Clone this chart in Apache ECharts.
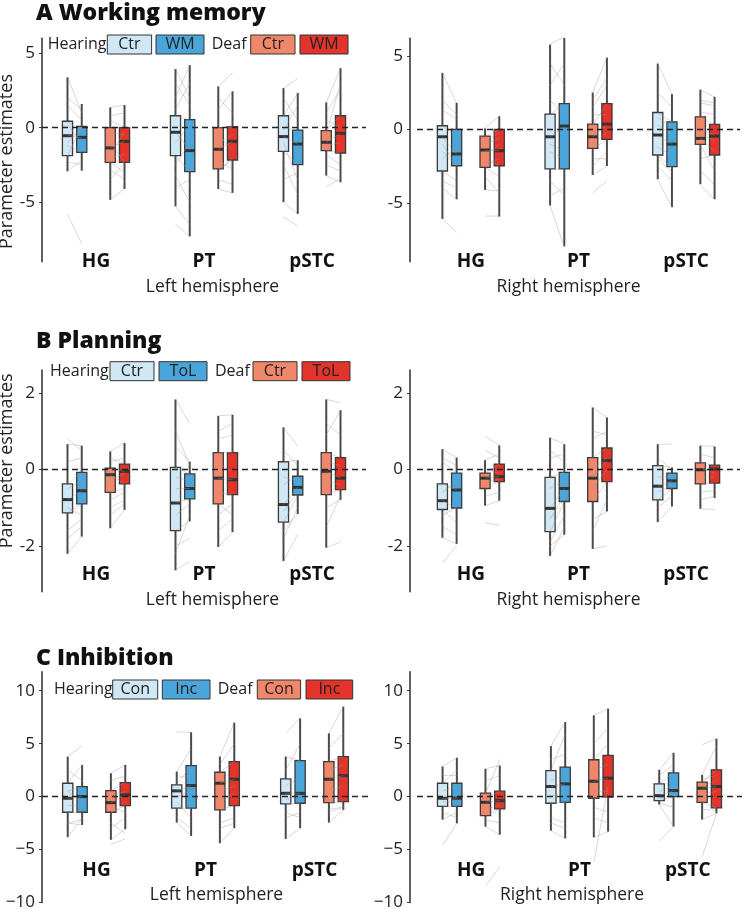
<!DOCTYPE html>
<html><head><meta charset="utf-8">
<script src="https://cdn.jsdelivr.net/npm/echarts@6/dist/echarts.min.js"></script>
<style>html,body{margin:0;padding:0;background:#fff}#c{width:750px;height:909px}</style>
</head><body><div id="c"></div><script>
// ---------- categories / labels ----------
const regions = ['HG', 'PT', 'pSTC'];
const groupNames = ['Hearing', 'Deaf'];
const wmConds = ['Ctr', 'WM'];
const planConds = ['Ctr', 'ToL'];
const inhibConds = ['Con', 'Inc'];
const panelTitles = ['A Working memory', 'B Planning', 'C Inhibition'];
const hemiNames = ['Left hemisphere', 'Right hemisphere'];
const yTicksA = [-5, 0, 5];
const yTicksB = [-2, 0, 2];
const yTicksC = [-10, -5, 0, 5, 10];

// ---------- box summaries: [whiskerLow, Q1, median, Q3, whiskerHigh] per region (HG, PT, pSTC) ----------
// A Working memory, left
const wmL_HCtr = [[-2.93,-1.88,-0.54,0.43,3.38],[-5.28,-1.88,-0.31,0.80,3.94],[-5.00,-1.59,-0.60,0.80,2.66]];
const wmL_HTask = [[-2.89,-1.66,-0.65,0.09,1.59],[-7.30,-2.95,-1.54,0.54,4.20],[-5.79,-2.48,-1.10,-0.16,2.33]];
const wmL_DCtr = [[-4.85,-2.33,-1.36,0.00,1.36],[-4.12,-2.77,-1.45,0.00,2.77],[-3.22,-1.54,-0.98,-0.20,1.70]];
const wmL_DTask = [[-4.12,-2.33,-0.92,0.00,1.52],[-4.38,-2.17,-0.92,0.07,2.44],[-3.67,-1.70,-0.38,0.80,4.00]];
// A Working memory, right
const wmR_HCtr = [[-6.09,-2.83,-0.50,0.25,3.85],[-5.18,-2.69,-0.50,1.04,5.77],[-3.39,-1.74,-0.38,1.15,4.48]];
const wmR_HTask = [[-4.75,-2.47,-1.67,0.00,1.81],[-7.96,-2.69,0.23,1.76,6.22],[-5.29,-2.53,-1.00,0.52,2.40]];
const wmR_DCtr = [[-4.12,-2.58,-1.40,-0.45,0.07],[-3.10,-1.29,-0.50,0.36,2.51],[-3.73,-1.02,-0.61,0.86,2.71]];
const wmR_DTask = [[-5.93,-2.47,-1.45,0.00,0.90],[-2.49,-0.68,0.36,1.76,4.89],[-4.75,-1.74,-0.45,0.34,2.22]];
// B Planning, left
const plL_HCtr = [[-2.21,-1.14,-0.79,-0.38,0.66],[-2.64,-1.60,-0.88,0.05,1.83],[-2.40,-1.38,-0.92,0.20,1.10]];
const plL_HTask = [[-1.76,-0.90,-0.56,-0.08,0.62],[-1.36,-0.77,-0.50,-0.12,0.20],[-1.17,-0.67,-0.47,-0.18,0.24]];
const plL_DCtr = [[-1.54,-0.60,-0.14,0.03,0.47],[-2.03,-0.90,-0.23,0.44,1.40],[-2.05,-0.66,-0.05,0.44,1.83]];
const plL_DTask = [[-1.06,-0.38,-0.05,0.14,0.69],[-1.64,-0.66,-0.27,0.44,1.43],[-0.80,-0.53,-0.23,0.31,1.55]];
// B Planning, right
const plR_HCtr = [[-1.79,-1.05,-0.82,-0.38,0.53],[-2.27,-1.63,-1.02,-0.21,0.83],[-1.38,-0.80,-0.44,0.10,0.66]];
const plR_HTask = [[-1.95,-1.01,-0.54,-0.10,0.31],[-1.71,-0.84,-0.50,-0.08,0.66],[-0.97,-0.50,-0.30,-0.10,0.05]];
const plR_DCtr = [[-0.95,-0.50,-0.23,-0.10,0.24],[-2.08,-0.84,-0.23,0.31,1.62],[-1.03,-0.38,-0.01,0.17,0.62]];
const plR_DTask = [[-0.82,-0.32,-0.19,0.14,0.63],[-1.10,-0.32,0.23,0.56,1.36],[-0.75,-0.36,0.01,0.11,0.60]];
// C Inhibition, left
const inL_HCtr = [[-3.84,-1.48,-0.16,1.26,3.78],[-2.46,-1.10,0.54,1.10,2.36],[-4.00,-0.69,0.31,1.67,3.78]];
const inL_HTask = [[-2.68,-1.48,0.00,0.94,2.99],[-3.72,-1.10,1.04,2.93,6.08],[-2.99,-0.63,0.31,3.40,7.40]];
const inL_DCtr = [[-4.09,-1.48,-0.57,0.57,2.20],[-4.41,-1.26,1.26,2.30,3.78],[-2.46,-0.57,1.64,3.31,5.98]];
const inL_DTask = [[-3.09,-0.85,0.16,1.32,2.99],[-2.99,-0.85,1.64,3.31,6.99],[-1.26,-0.47,1.98,3.78,8.50]];
// C Inhibition, right
const inR_HCtr = [[-2.18,-0.92,-0.16,1.26,2.84],[-3.22,-0.63,0.95,2.46,4.77],[-0.76,-0.38,0.09,1.20,2.53]];
const inR_HTask = [[-2.53,-0.92,-0.16,1.26,3.67],[-3.95,-0.54,1.20,2.78,7.05],[-2.84,0.00,0.57,2.24,4.14]];
const inR_DCtr = [[-2.84,-1.80,-0.54,0.32,2.62],[-3.85,-0.16,1.45,3.48,7.68],[-2.18,-0.54,0.79,1.36,2.05]];
const inR_DTask = [[-3.60,-1.17,-0.38,0.51,2.94],[-3.32,-0.06,1.74,3.89,8.31],[-1.58,-1.07,0.95,2.53,5.47]];

// ---------- individual subjects: [control, task] per region (HG, PT, pSTC) ----------
const wmL_HPairs = [
  [[3.4,1.0],[1.5,0.5],[0.4,-0.3],[-0.5,-0.7],[-1.2,-1.6],[-1.9,0.1],[-2.9,-2.2],[-5.8,-7.8],[2.0,1.2],[0.2,-1.0],[-1.0,0.0],[-2.3,-2.5]],
  [[3.94,2.0],[2.0,4.2],[0.8,0.5],[-0.3,-1.5],[-1.0,0.2],[-1.9,-2.95],[-4.0,-3.5],[-5.28,-6.5],[-6.5,-7.3],[3.0,1.5],[1.2,3.0],[-2.5,-1.0],[-3.2,-5.0]],
  [[2.66,3.3],[0.8,2.33],[0.0,-0.16],[-0.6,-1.1],[-1.59,-2.48],[-3.5,-3.0],[-5.0,-5.79],[-6.0,-6.6],[2.0,0.5],[-0.2,1.5],[-1.0,-3.5],[-2.5,-4.5]]];
const wmL_DPairs = [
  [[1.36,1.52],[0.5,0.0],[-0.3,-0.5],[-1.36,-0.9],[-2.0,-1.8],[-2.33,-3.0],[-3.5,-2.4],[-4.85,-4.12],[0.8,1.0],[-1.0,-2.33],[-1.8,-0.3],[-2.8,-3.5]],
  [[2.77,3.7],[1.2,2.44],[0.0,0.07],[-1.0,-0.5],[-1.45,-0.92],[-2.77,-2.17],[-3.5,-3.8],[-4.12,-4.38],[2.0,1.0],[-0.5,-1.5],[-2.2,-2.8],[-3.0,-2.0]],
  [[1.7,4.0],[1.0,2.6],[-0.2,0.8],[-0.98,-0.38],[-1.54,-1.7],[-2.5,-2.9],[-3.22,-3.67],[-4.0,-3.4],[0.5,0.0],[-1.2,-1.0],[-1.8,-2.5],[-0.5,3.0]]];
const wmR_HPairs = [
  [[3.84,1.8],[1.3,0.7],[0.24,-0.5],[-0.5,-1.7],[-1.5,-2.5],[-2.85,-3.5],[-4.0,-4.75],[-6.1,-7.0],[2.0,1.0],[-1.0,-2.47],[-2.0,-1.2],[-3.5,-4.0]],
  [[5.8,6.3],[4.5,3.0],[1.0,1.76],[-0.5,0.15],[-1.5,-2.0],[-2.7,-2.7],[-4.5,-4.0],[-5.2,-8.0],[3.0,4.5],[2.0,1.0],[-1.0,-1.5],[-3.5,-4.5]],
  [[4.5,2.4],[1.15,0.5],[0.3,-0.3],[-0.44,-1.0],[-1.76,-2.6],[-2.5,-3.5],[-3.4,-5.3],[2.5,1.5],[0.8,0.2],[-1.2,-1.8],[-2.0,-2.9]]];
const wmR_DPairs = [
  [[0.1,0.9],[-0.5,0.0],[-1.0,-0.6],[-1.45,-1.45],[-2.0,-2.5],[-2.55,-3.2],[-4.1,-4.2],[-5.9,-5.9],[-0.8,-0.2],[-1.8,-1.0],[-2.3,-2.0],[-3.2,-4.3]],
  [[2.5,4.9],[1.5,3.0],[0.26,1.76],[-0.5,0.3],[-1.3,-0.73],[-2.0,-2.0],[-3.1,-2.5],[-4.3,-3.5],[2.0,3.5],[1.0,1.0],[-1.0,-0.2],[-2.5,-1.5]],
  [[2.7,2.2],[1.8,1.6],[0.85,0.3],[0.0,-0.4],[-0.6,-1.5],[-1.04,-2.8],[-2.8,-3.8],[-3.8,-4.75],[2.0,1.8],[1.2,1.0],[-0.3,-0.8],[-2.0,-1.74]]];
const plL_HPairs = [
  [[0.66,0.62],[0.8,0.5],[-0.38,-0.08],[-0.79,-0.56],[-1.14,-0.9],[-1.6,-1.3],[-2.21,-1.76],[0.2,0.3],[-0.5,-0.3],[-1.0,-1.2],[-1.8,-1.5]],
  [[1.83,1.2],[0.6,0.2],[0.05,-0.12],[-0.5,-0.5],[-0.88,-0.77],[-1.6,-1.36],[-2.0,-1.8],[-2.64,-2.4],[1.0,0.1],[-0.2,-0.3],[-1.2,-0.9],[-2.2,-1.2]],
  [[1.1,0.6],[0.2,0.24],[-0.4,-0.18],[-0.92,-0.47],[-1.38,-0.67],[-1.6,-1.17],[-2.4,-1.7],[0.5,0.1],[-0.2,-0.3],[-1.1,-0.6],[-1.8,-1.0]]];
const plL_DPairs = [
  [[0.47,0.69],[0.3,0.14],[0.03,-0.05],[-0.14,-0.38],[-0.6,-0.5],[-1.0,-0.8],[-1.54,-1.06],[0.2,0.3],[-0.3,-0.1],[-0.8,-0.6],[-1.2,-0.9]],
  [[1.4,1.43],[0.8,0.9],[0.44,0.44],[-0.23,-0.27],[-0.6,-0.66],[-0.9,-1.2],[-2.03,-1.64],[1.0,1.2],[0.2,-0.1],[-1.2,-0.9],[-1.6,-1.3]],
  [[1.83,1.75],[0.9,1.55],[0.44,0.31],[-0.05,-0.23],[-0.66,-0.53],[-1.0,-0.8],[-2.05,-1.9],[1.2,0.9],[0.2,0.1],[-0.3,-0.4],[-1.5,-0.7]]];
const plR_HPairs = [
  [[0.53,0.31],[0.2,-0.1],[-0.38,-0.54],[-0.82,-1.01],[-1.05,-1.4],[-1.79,-1.95],[-2.45,-2.0],[0.3,0.1],[-0.6,-0.3],[-1.2,-1.0],[-1.5,-1.7]],
  [[0.83,0.66],[0.3,0.4],[-0.21,-0.08],[-1.02,-0.5],[-1.63,-0.84],[-2.0,-1.71],[-2.27,-1.5],[0.5,0.2],[-0.5,-0.3],[-1.3,-0.7],[-1.9,-1.2]],
  [[0.66,0.66],[0.1,0.05],[-0.44,-0.3],[-0.8,-0.5],[-1.38,-0.97],[0.3,0.0],[-0.2,-0.2],[-0.6,-0.4],[-1.0,-0.7]]];
const plR_DPairs = [
  [[0.87,0.63],[0.24,0.4],[-0.1,0.14],[-0.23,-0.19],[-0.5,-0.32],[-0.95,-0.82],[-1.4,-1.45],[0.5,0.3],[0.0,-0.1],[-0.35,-0.25],[-0.7,-0.6]],
  [[1.62,1.36],[0.8,1.0],[0.31,0.56],[-0.23,0.23],[-0.84,-0.32],[-1.3,-1.1],[-2.08,-2.0],[1.0,0.9],[0.0,0.3],[-0.5,0.0],[-1.6,-0.8]],
  [[0.62,0.6],[0.17,0.11],[-0.01,0.01],[-0.38,-0.36],[-0.6,-0.55],[-1.03,-1.05],[0.4,0.3],[0.05,-0.1],[-0.2,-0.2],[-0.8,-0.7]]];
const inL_HPairs = [
  [[3.78,4.8],[1.26,2.99],[0.5,0.94],[-0.16,0.0],[-1.48,-1.48],[-2.5,-2.68],[-3.84,-2.0],[2.5,1.5],[0.5,-0.5],[-0.8,-1.0],[-2.5,-2.2]],
  [[6.1,6.08],[2.36,4.5],[1.1,2.93],[0.54,1.04],[-1.1,-1.1],[-2.46,-3.72],[1.8,2.0],[0.0,0.5],[-0.5,-2.0],[-2.0,-3.0]],
  [[6.0,7.4],[3.78,3.4],[1.67,1.0],[0.31,0.31],[-0.69,-0.63],[-2.0,-1.5],[-4.0,-2.99],[2.5,5.0],[1.0,2.0],[-0.3,0.0],[-1.5,-2.0]]];
const inL_DPairs = [
  [[2.2,2.99],[0.57,1.32],[-0.57,0.16],[-1.48,-0.85],[-2.5,-3.5],[-4.09,-3.09],[-4.5,-4.0],[1.5,2.0],[0.0,0.5],[-1.0,-1.5],[-3.0,-2.0]],
  [[3.78,6.99],[2.3,3.31],[1.26,1.64],[-1.26,-0.85],[-2.5,-2.0],[-4.41,-2.99],[3.0,5.0],[0.5,1.0],[-0.5,0.3],[-3.0,-2.5]],
  [[5.98,8.5],[3.31,3.78],[1.64,1.98],[-0.57,-0.47],[-1.2,-1.0],[-2.46,-1.26],[4.5,6.0],[2.5,3.0],[0.5,1.0],[-1.5,-1.0]]];
const inR_HPairs = [
  [[2.84,3.67],[1.26,2.5],[-0.16,-0.16],[-0.92,-0.92],[-2.18,-1.5],[-4.6,-2.53],[2.0,2.0],[0.5,1.0],[-0.5,-0.5],[-1.5,-2.0]],
  [[4.77,7.05],[2.46,5.9],[0.95,1.2],[-0.63,-0.54],[-2.0,-2.5],[-3.22,-3.95],[3.5,4.0],[1.5,2.0],[0.0,0.5],[-2.5,-3.0]],
  [[2.53,4.14],[1.2,2.24],[0.09,0.57],[-0.38,0.0],[-0.76,-2.84],[-4.2,-2.8],[2.0,3.0],[0.5,1.0],[-0.2,0.2],[-0.6,-1.0]]];
const inR_DPairs = [
  [[2.62,2.94],[0.32,3.5],[-0.54,-0.38],[-1.8,-1.17],[-2.84,-3.6],[-8.5,-6.6],[1.5,2.0],[-0.2,0.5],[-1.2,-0.8],[-2.2,-2.5]],
  [[7.68,8.31],[3.48,5.0],[1.45,1.74],[-0.16,-0.06],[-2.0,-2.5],[-3.85,-3.32],[-6.2,1.0],[5.0,6.5],[2.5,3.0],[0.5,0.5],[-1.0,-1.5]],
  [[4.9,5.47],[2.05,4.8],[1.36,2.53],[0.79,0.95],[-0.54,-1.07],[-2.18,-1.58],[-5.7,-1.6],[1.6,2.0],[1.0,1.5],[0.2,0.5],[-1.2,-1.3]]];

// ---------- styling / layout ----------
const COLORS = ['#d0e8f6', '#4aa6da', '#f0876b', '#e2342b'];
const OFFS = [-0.264, -0.132, 0.132, 0.264];
const BOXW = 0.094;
const FONT = '"Open Sans", "Noto Sans", sans-serif';

const panels = [
  {boxes:[wmL_HCtr,wmL_HTask,wmL_DCtr,wmL_DTask], pairs:[wmL_HPairs,wmL_DPairs], ticks:yTicksA, min:-9, max:6, hemi:0,
   grid:{left:42, top:38.3, width:324, height:223.4}, xOff:-9.7, nameGap:26.2, namePad:[0,0,0,17], yPad:[0,23,0,0]},
  {boxes:[wmR_HCtr,wmR_HTask,wmR_DCtr,wmR_DTask], pairs:[wmR_HPairs,wmR_DPairs], ticks:yTicksA, min:-9, max:6.2, hemi:1,
   grid:{left:417, top:38.3, width:323, height:223.4}, xOff:-9.7, nameGap:26.2, namePad:[0,20,0,0]},
  {boxes:[plL_HCtr,plL_HTask,plL_DCtr,plL_DTask], pairs:[plL_HPairs,plL_DPairs], ticks:yTicksB, min:-3.2, max:2.6, hemi:0,
   grid:{left:42, top:370, width:324, height:221.7}, xOff:-26.7, nameGap:26.5, namePad:[0,0,0,17], yPad:[0,0,0,40]},
  {boxes:[plR_HCtr,plR_HTask,plR_DCtr,plR_DTask], pairs:[plR_HPairs,plR_DPairs], ticks:yTicksB, min:-3.2, max:2.6, hemi:1,
   grid:{left:417, top:370, width:323, height:221.7}, xOff:-26.7, nameGap:26.5, namePad:[0,20,0,0]},
  {boxes:[inL_HCtr,inL_HTask,inL_DCtr,inL_DTask], pairs:[inL_HPairs,inL_DPairs], ticks:yTicksC, min:-10, max:11.8, hemi:0,
   grid:{left:42, top:671.7, width:327, height:230.7}, xOff:-41.7, nameGap:25.8, namePad:[0,0,0,22], yPad:[0,0,0,8], minus:true},
  {boxes:[inR_HCtr,inR_HTask,inR_DCtr,inR_DTask], pairs:[inR_HPairs,inR_DPairs], ticks:yTicksC, min:-10, max:11.8, hemi:1,
   grid:{left:417, top:671.7, width:325, height:230.7}, xOff:-41.7, nameGap:25.8, namePad:[0,15,0,0], minus:true}
];

function boxRender(k) {
  return function (params, api) {
    const c = api.value(0);
    const band = api.size([1, 0])[0];
    const cx = api.coord([c, 0])[0] + OFFS[k] * band;
    const w = BOXW * band;
    const y = [1, 2, 3, 4, 5].map(i => api.coord([c, api.value(i)])[1]);
    return {type: 'group', children: [
      {type: 'line', shape: {x1: cx, y1: y[4], x2: cx, y2: y[0]}, style: {stroke: '#4a4a4a', lineWidth: 2}},
      {type: 'rect', shape: {x: cx - w / 2, y: y[3], width: w, height: y[1] - y[3]},
       style: {fill: COLORS[k], stroke: '#3a3a3a', lineWidth: 1.3}},
      {type: 'line', shape: {x1: cx - w / 2, y1: y[2], x2: cx + w / 2, y2: y[2]}, style: {stroke: '#333', lineWidth: 3}}
    ]};
  };
}
function pairRender(params, api) {
  const c = api.value(0), g = api.value(1);
  const band = api.size([1, 0])[0];
  const base = api.coord([c, 0])[0];
  const p1 = api.coord([c, api.value(2)]);
  const p2 = api.coord([c, api.value(3)]);
  return {type: 'line',
    shape: {x1: base + OFFS[g * 2] * band, y1: p1[1], x2: base + OFFS[g * 2 + 1] * band, y2: p2[1]},
    style: {stroke: 'rgba(165,150,140,0.5)', lineWidth: 0.75}};
}

const grids = [], xAxes = [], yAxes = [], series = [];
panels.forEach((p, i) => {
  grids.push(Object.assign({outerBoundsMode: 'none', containLabel: false}, p.grid));
  xAxes.push({
    type: 'category', gridIndex: i, data: regions, offset: p.xOff,
    axisLine: {show: false}, axisTick: {show: false},
    axisLabel: {fontFamily: FONT, fontWeight: 'bold', fontSize: 19, color: '#111', margin: 0},
    name: hemiNames[p.hemi], nameLocation: 'middle', nameGap: p.nameGap,
    nameTextStyle: {fontFamily: FONT, fontSize: 17.5, color: '#222', padding: p.namePad}
  });
  const ya = {
    type: 'value', gridIndex: i, min: p.min, max: p.max, offset: p.hemi === 1 ? 7 : 0,
    splitLine: {show: false},
    axisLine: {show: true, lineStyle: {color: '#3a3a3a', width: 1.6}},
    axisTick: {show: true, length: 3, customValues: p.ticks, lineStyle: {color: '#3a3a3a'}},
    axisLabel: {customValues: p.ticks, fontFamily: FONT, fontSize: 17, color: '#222', margin: 7,
      formatter: v => p.minus ? String(v).replace('-', '\u2212') : String(v)}
  };
  if (p.hemi === 0) {
    ya.name = 'Parameter estimates';
    ya.nameLocation = 'middle';
    ya.nameGap = 24;
    ya.nameTextStyle = {fontFamily: FONT, fontSize: 18, color: '#222', padding: p.yPad};
  }
  yAxes.push(ya);
  p.boxes.forEach((arr, k) => {
    series.push({
      type: 'custom', xAxisIndex: i, yAxisIndex: i, z: 2, clip: false,
      renderItem: boxRender(k),
      encode: {x: 0, y: [1, 2, 3, 4, 5]},
      data: arr.map((b, r) => [r].concat(b))
    });
  });
  const pd = [];
  p.pairs.forEach((byRegion, g) => byRegion.forEach((list, r) => list.forEach(pr => pd.push([r, g, pr[0], pr[1]]))));
  series.push({
    type: 'custom', xAxisIndex: i, yAxisIndex: i, z: 3, clip: false, silent: true,
    renderItem: pairRender, encode: {x: 0, y: [2, 3]}, data: pd,
    markLine: {silent: true, symbol: 'none', label: {show: false},
      lineStyle: {type: [6, 4], color: '#222', width: 1.4}, data: [{yAxis: 0}]}
  });
});

// legends (drawn as labelled swatches)
const legendPos = [
  {y: 35, hear: 47.7, deaf: 211.7, boxes: [[107.3, 44.3], [156, 48], [250.7, 44.3], [300, 48]], labels: wmConds},
  {y: 361.7, hear: 50, deaf: 215, boxes: [[110, 44], [159, 48], [253, 44], [302, 48]], labels: planConds},
  {y: 680, hear: 54, deaf: 217.7, boxes: [[112.7, 45], [162.3, 47.7], [257.3, 43.3], [306, 46.7]], labels: inhibConds}
];
const graphic = [];
legendPos.forEach(L => {
  const h = 19, cy = L.y + h / 2;
  graphic.push({type: 'text', x: L.hear, y: cy, style: {text: groupNames[0], fill: '#222', font: '16px ' + FONT, verticalAlign: 'middle'}});
  graphic.push({type: 'text', x: L.deaf, y: cy, style: {text: groupNames[1], fill: '#222', font: '16px ' + FONT, verticalAlign: 'middle'}});
  L.boxes.forEach((b, k) => {
    graphic.push({type: 'rect', shape: {x: b[0], y: L.y, width: b[1], height: h}, style: {fill: COLORS[k], stroke: '#333', lineWidth: 1}});
    graphic.push({type: 'text', x: b[0] + b[1] / 2, y: cy, style: {text: L.labels[k % 2], fill: '#222', font: '16px ' + FONT, align: 'center', verticalAlign: 'middle'}});
  });
});

const titleTops = [2, 330, 647];
const option = {
  animation: false,
  backgroundColor: '#fff',
  title: panelTitles.map((t, i) => ({text: t, left: 36, top: titleTops[i], padding: 0,
    textStyle: {fontFamily: FONT, fontWeight: 800, fontSize: 23, color: '#111'}})),
  grid: grids, xAxis: xAxes, yAxis: yAxes, series: series, graphic: graphic
};
const chart = echarts.init(document.getElementById('c'), null, {renderer: 'canvas'});
chart.setOption(option);
</script></body></html>
